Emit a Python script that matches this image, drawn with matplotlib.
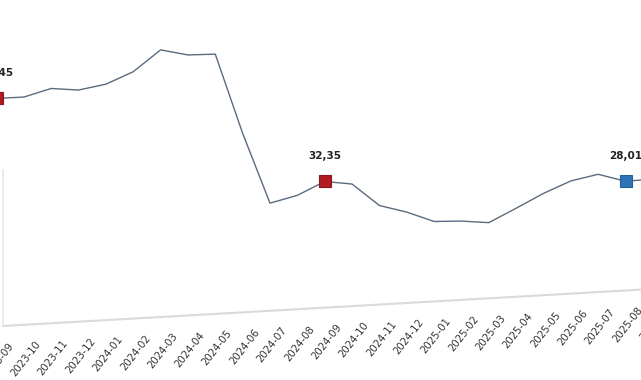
import numpy as np
import matplotlib.pyplot as plt
from matplotlib.transforms import Affine2D, ScaledTranslation

months = ['2023-09', '2023-10', '2023-11', '2023-12', '2024-01', '2024-02',
          '2024-03', '2024-04', '2024-05', '2024-06', '2024-07', '2024-08',
          '2024-09', '2024-10', '2024-11', '2024-12', '2025-01', '2025-02',
          '2025-03', '2025-04', '2025-05', '2025-06', '2025-07', '2025-08',
          '2025-09']
values = [58.45, 58.4, 60.2, 59.4, 60.5, 63.3, 68.5, 66.8, 66.6, 45.9,
          27.6, 29.2, 32.35, 31.3, 25.4, 23.3, 20.5, 20.2, 19.4, 22.7,
          26.1, 28.9, 30.2, 28.01, 28.2]
red_idx = [0, 12]
blue_idx = [23]

W, H = 641, 380
fig = plt.figure(figsize=(W / 100, H / 100), dpi=100)

step = 27.35      # px per month
first_x = -3.5    # px position of first month
left, bottom = 3, 54
xmax = 24.6
xmin = (left - first_x) / step
width_px = first_x + xmax * step - left
ax = fig.add_axes([left / W, bottom / H, width_px / W, 312 / H])
ax.set_xlim(xmin, xmax)
ax.set_ylim(0, 80)
ax.axis('off')

# the screenshot is slightly tilted: shear everything upwards to the right
shear = Affine2D().translate(-left, -bottom).skew(0, np.arctan(0.057)).translate(left, bottom)
T = ax.transData + shear

x = np.arange(len(months))
ax.plot(x, values, color='#5a6b7e', lw=1.0, transform=T, clip_on=False, zorder=2)

narrow = ['Liberation Sans Narrow', 'DejaVu Sans']

def mark(idx, col, edge):
    for i in idx:
        ax.plot(x[i], values[i], 's', ms=8, color=col, mec=edge, mew=0.8,
                transform=T, clip_on=False, zorder=3)
        lab_tr = ax.transData + ScaledTranslation(0, 0.25, fig.dpi_scale_trans) + shear
        ax.text(x[i], values[i], f'{values[i]:.2f}'.replace('.', ','),
                transform=lab_tr, ha='center', va='center', fontsize=7.5,
                fontweight='bold', family=narrow, color='#222222')

mark(red_idx, '#b01c22', '#8e1418')
mark(blue_idx, '#2e75b6', '#245f96')

# frame lines
ax.plot([0, 1], [0, 0], transform=ax.transAxes + shear, color='#dadada',
        lw=1.5, clip_on=False)
ax.plot([0, 0], [0, 0.5], transform=ax.transAxes + shear, color='#e6e6e6',
        lw=1.2, clip_on=False)

# month labels
tick_tr = ax.transData + ScaledTranslation(0.11, -0.15, fig.dpi_scale_trans) + shear
for i, m in enumerate(months):
    ax.text(i, 0, m, transform=tick_tr, rotation=52, rotation_mode='anchor',
            ha='right', va='top', fontsize=7.3, color='#333333')

fig.savefig('out.png', dpi=100)
